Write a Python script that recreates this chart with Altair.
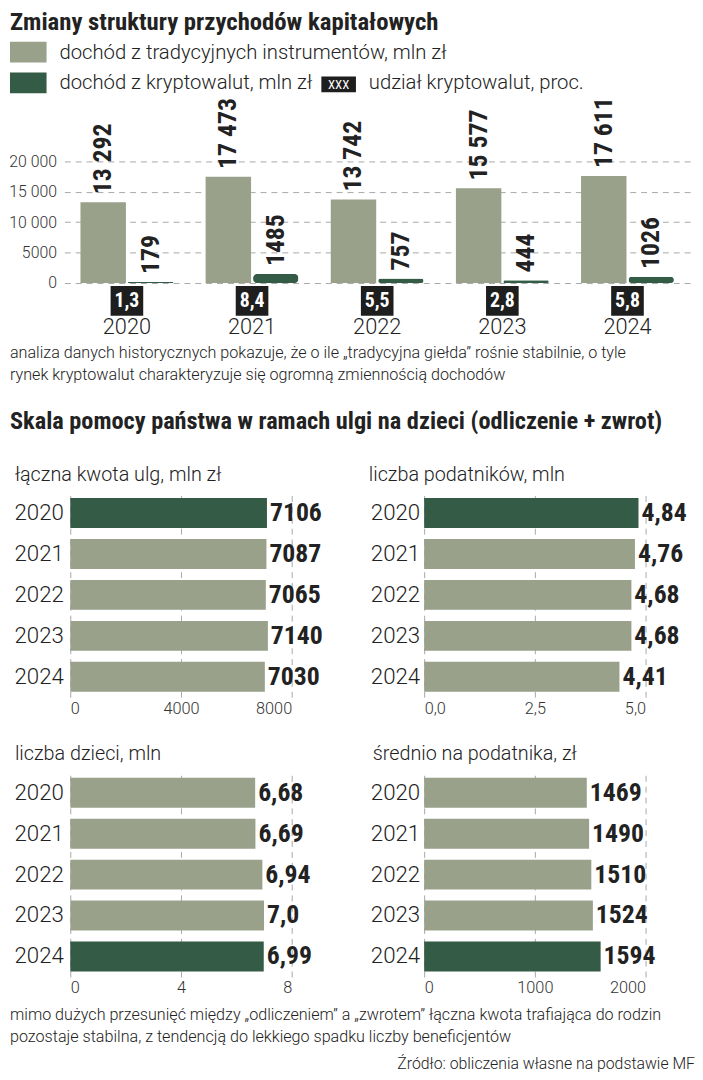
import altair as alt
import pandas as pd

# ---------------- data ----------------
years = ["2020", "2021", "2022", "2023", "2024"]
trad_income = [13292, 17473, 13742, 15577, 17611]
crypto_income = [179, 1485, 757, 444, 1026]
crypto_share = [1.3, 8.4, 5.5, 2.8, 5.8]

relief_total = [7106, 7087, 7065, 7140, 7030]
taxpayers = [4.84, 4.76, 4.68, 4.68, 4.41]
children = [6.68, 6.69, 6.94, 7.0, 6.99]
avg_per_taxpayer = [1469, 1490, 1510, 1524, 1594]

top_ticks = [0, 5000, 10000, 15000, 20000]
relief_ticks = [0, 4000, 8000]
taxpayer_ticks = [0, 2.5, 5.0]
children_ticks = [0, 4, 8]
avg_ticks = [0, 1000, 2000]

title_top = "Zmiany struktury przychodów kapitałowych"
legend_trad = "dochód z tradycyjnych instrumentów, mln zł"
legend_crypto = "dochód z kryptowalut, mln zł"
legend_share = "udział kryptowalut, proc."
note_top = [
    "analiza danych historycznych pokazuje, że o ile „tradycyjna giełda” rośnie stabilnie, o tyle",
    "rynek kryptowalut charakteryzuje się ogromną zmiennością dochodów",
]
title_bottom = "Skala pomocy państwa w ramach ulgi na dzieci (odliczenie + zwrot)"
panel_titles = [
    "łączna kwota ulg, mln zł",
    "liczba podatników, mln",
    "liczba dzieci, mln",
    "średnio na podatnika, zł",
]
note_bottom = [
    "mimo dużych przesunięć między „odliczeniem” a „zwrotem” łączna kwota trafiająca do rodzin",
    "pozostaje stabilna, z tendencją do lekkiego spadku liczby beneficjentów",
]
source = "Źródło: obliczenia własne na podstawie MF"

# ---------------- style ----------------
LIGHT = "#99a18b"
DARK = "#335b45"
INK = "#222222"
BOX = "#1e1e1e"
GRID = "#a8a8a8"
BOLD = "Roboto Condensed, Roboto, sans-serif"
COND = "Roboto Condensed, Roboto, sans-serif"
LIGHTF = "Roboto, sans-serif"


def pl(v):
    if isinstance(v, float):
        return str(v).replace(".", ",")
    if v >= 10000:
        return f"{v:,}".replace(",", " ")
    return str(v)


def txt(text, x, y, size, font=LIGHTF, weight=300, color=INK, align="left", baseline="alphabetic"):
    return alt.Chart(pd.DataFrame({"t": [text]})).mark_text(
        font=font, fontSize=size, fontWeight=weight, color=color, align=align, baseline=baseline
    ).encode(x=alt.value(x), y=alt.value(y), text="t:N")


def box(x, x2, y, y2, color):
    return alt.Chart(pd.DataFrame({"a": [0]})).mark_rect(color=color).encode(
        x=alt.value(x), x2=alt.value(x2), y=alt.value(y), y2=alt.value(y2)
    )


# ---------------- top chart ----------------
TOP_W = 633
TOP_H = 319
ZERO = 183
YMAX = 20000 * ZERO / 123

top_df = pd.DataFrame({
    "year": years * 2,
    "series": ["trad"] * 5 + ["crypto"] * 5,
    "value": trad_income + crypto_income,
    "label": [pl(v) for v in trad_income + crypto_income],
})
share_df = pd.DataFrame({"year": years, "label": [pl(v) for v in crypto_share]})

x_top = alt.X("year:N", sort=years, scale=alt.Scale(paddingInner=0, paddingOuter=0), axis=None)
xoff = alt.XOffset("series:N", sort=["trad", "crypto"],
                   scale=alt.Scale(paddingInner=0.042, paddingOuter=0.34))
y_top = alt.Y(
    "value:Q",
    scale=alt.Scale(domain=[0, YMAX], range=[ZERO, 0], nice=False, zero=True),
    axis=alt.Axis(
        values=top_ticks, title=None, grid=True, gridDash=[6, 5], gridColor=GRID, gridWidth=1,
        domain=False, ticks=False, labelPadding=8, labelFont=LIGHTF, labelFontSize=16,
        labelFontWeight=300, labelColor="#333333",
        labelExpr="datum.value >= 10000 ? replace(format(datum.value, ','), ',', ' ') : format(datum.value, 'd')",
    ),
)

light_bars = alt.Chart(top_df).transform_filter("datum.series == 'trad'").mark_bar(color=LIGHT).encode(
    x=x_top, xOffset=xoff, y=y_top)
dark_bars = alt.Chart(top_df).transform_filter("datum.series == 'crypto'").mark_bar(
    color=DARK, cornerRadius=4).encode(x=x_top, xOffset=xoff, y=y_top)
bar_labels = alt.Chart(top_df).mark_text(
    angle=270, align="left", baseline="middle", dx=8, font=BOLD, fontSize=26, fontWeight=700, color=INK
).encode(x=x_top, xOffset=xoff, y=y_top, text="label:N")
share_boxes = alt.Chart(share_df).mark_bar(color=BOX, width=33).encode(
    x=x_top, y=alt.value(ZERO + 3), y2=alt.value(ZERO + 33))
share_text = alt.Chart(share_df).mark_text(
    font=BOLD, fontSize=20, fontWeight=700, color="white", baseline="middle"
).encode(x=x_top, y=alt.value(ZERO + 18), text="label:N")
year_text = alt.Chart(share_df).mark_text(
    font=LIGHTF, fontSize=22, fontWeight=300, color=INK, baseline="middle"
).encode(x=x_top, y=alt.value(ZERO + 45), text="year:N")

top = alt.layer(
    light_bars, dark_bars, bar_labels, share_boxes, share_text, year_text,
    txt(title_top, -55, -93, 25, font=BOLD, weight=700, baseline="top"),
    box(-55, -18, -61, -40, LIGHT),
    txt(legend_trad, -5, -44, 20.5),
    box(-55, -18, -30, -9, DARK),
    txt(legend_crypto, -5, -13, 20.5),
    box(260, 295, -26, -10, BOX),
    txt("XXX", 277.5, -13, 13, font=COND, weight=400, color="white", align="center"),
    txt(legend_share, 308, -13, 20.5),
    txt(note_top[0], -55, 259, 16.3),
    txt(note_top[1], -55, 281, 16.3),
    txt(title_bottom, -55, 331, 24.6, font=BOLD, weight=700),
).properties(width=TOP_W, height=TOP_H)

# ---------------- panels ----------------
ROW_W = 588
ROW_H = 207

y_panel = alt.Y(
    "year:N", sort=years,
    scale=alt.Scale(paddingInner=0.27, paddingOuter=0.135),
    axis=alt.Axis(title=None, ticks=False, domain=False, labelFont=LIGHTF, labelFontSize=22.5,
                  labelFontWeight=300, labelColor=INK, labelPadding=1),
)


def panel(values, ticks, highlight, xrange, fmt=None, expr=None, years_x=None):
    df = pd.DataFrame({"year": years, "value": values, "label": [pl(v) for v in values]})
    xs = alt.Scale(domain=[ticks[0], ticks[-1]], range=xrange, nice=False, zero=True)
    axis_kw = dict(values=ticks, orient="bottom", title=None, grid=True, gridDash=[6, 5],
                   gridColor=GRID, gridWidth=1, domain=False, ticks=False, labelPadding=3,
                   labelFont=LIGHTF, labelFontSize=16.5, labelFontWeight=300, labelColor="#333333")
    if fmt:
        axis_kw["format"] = fmt
    if expr:
        axis_kw["labelExpr"] = expr
    bars = alt.Chart(df).mark_bar().encode(
        x=alt.X("value:Q", scale=xs, axis=alt.Axis(**axis_kw)),
        y=y_panel,
        color=alt.condition(f"datum.year == '{highlight}'", alt.value(DARK), alt.value(LIGHT)),
    )
    labels = alt.Chart(df).mark_text(
        align="left", baseline="middle", dx=3, font=BOLD, fontSize=26, fontWeight=700, color=INK
    ).encode(x=alt.X("value:Q", scale=xs, axis=None), y=y_panel, text="label:N")
    out = [bars, labels]
    if years_x is not None:
        out.append(alt.Chart(df).mark_text(
            align="right", baseline="middle", font=LIGHTF, fontSize=22.5, fontWeight=300, color=INK
        ).encode(x=alt.value(years_x), y=y_panel, text="year:N"))
    return out


row1 = alt.layer(
    *panel(relief_total, relief_ticks, "2020", [6, 230], fmt="d"),
    *panel(taxpayers, taxpayer_ticks, "2020", [364, 588],
           expr="replace(format(datum.value, '.1f'), '.', ',')", years_x=360),
    txt(panel_titles[0], -50, -12, 20),
    txt(panel_titles[1], 308, -12, 20),
).resolve_scale(x="independent").properties(width=ROW_W, height=ROW_H)

row2 = alt.layer(
    *panel(children, children_ticks, "2024", [6, 230], fmt="d"),
    *panel(avg_per_taxpayer, avg_ticks, "2024", [364, 588], fmt="d", years_x=360),
    txt(panel_titles[2], -50, -12, 20),
    txt(panel_titles[3], 312, -12, 20),
    txt(note_bottom[0], -55, 251, 16.3),
    txt(note_bottom[1], -55, 273, 16.3),
    txt(source, 638, 300, 16, align="right"),
).resolve_scale(x="independent").properties(width=ROW_W, height=ROW_H)

chart = alt.vconcat(top, row1, row2, spacing=76, bounds="flush").properties(
    padding={"left": 0, "top": -4, "right": 0, "bottom": 0},
    background="white",
).configure_view(stroke="transparent", strokeWidth=0)

chart.save("out.html", embed_options={"renderer": "svg", "actions": False})
